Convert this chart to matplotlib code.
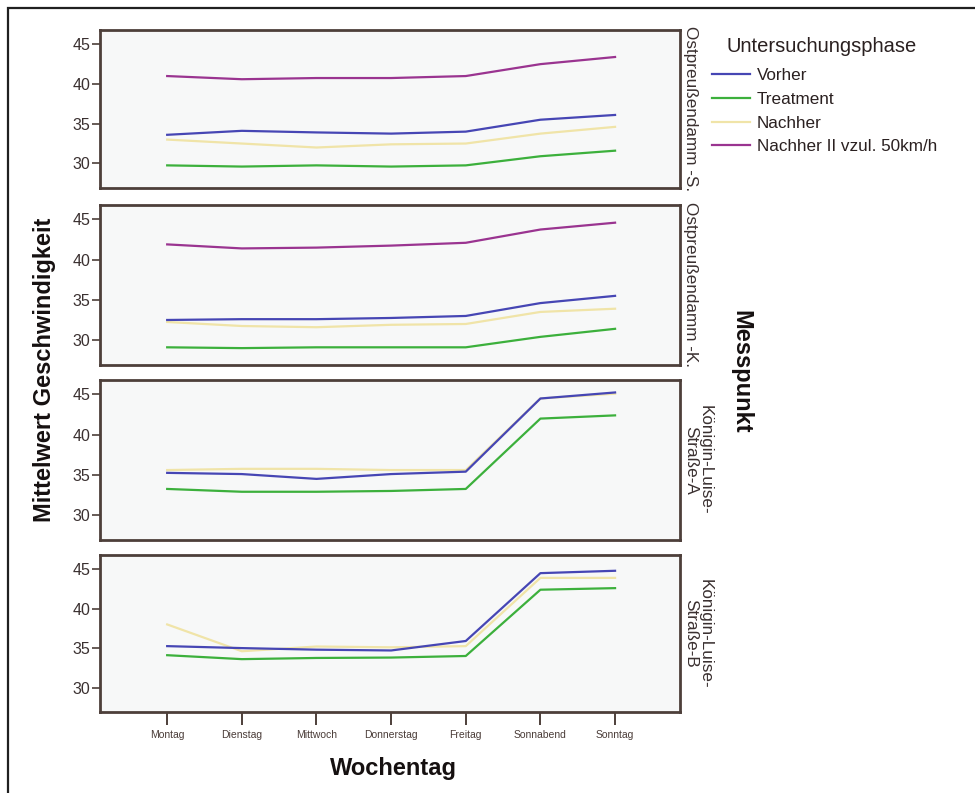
import matplotlib
matplotlib.use("Agg")
import matplotlib.pyplot as plt
from matplotlib.lines import Line2D
from matplotlib.patches import Rectangle

plt.rcParams['font.family'] = ['Liberation Sans', 'DejaVu Sans']

days = ["Montag", "Dienstag", "Mittwoch", "Donnerstag", "Freitag", "Sonnabend", "Sonntag"]
phases = ["Vorher", "Treatment", "Nachher", "Nachher II vzul. 50km/h"]
panel_labels = ["Ostpreußendamm -S.", "Ostpreußendamm -K.",
                "Königin-Luise-\nStraße-A", "Königin-Luise-\nStraße-B"]

# Ostpreußendamm -S.
s_vorher    = [33.6, 34.1, 33.9, 33.75, 34.0, 35.5, 36.1]
s_treatment = [29.75, 29.6, 29.75, 29.6, 29.75, 30.9, 31.6]
s_nachher   = [33.0, 32.5, 32.0, 32.4, 32.5, 33.75, 34.6]
s_nachher2  = [41.0, 40.6, 40.75, 40.75, 41.0, 42.5, 43.4]
# Ostpreußendamm -K.
k_vorher    = [32.5, 32.6, 32.6, 32.75, 33.0, 34.6, 35.5]
k_treatment = [29.1, 29.0, 29.1, 29.1, 29.1, 30.4, 31.4]
k_nachher   = [32.25, 31.75, 31.6, 31.9, 32.0, 33.5, 33.9]
k_nachher2  = [41.9, 41.4, 41.5, 41.75, 42.1, 43.75, 44.6]
# Königin-Luise-Straße-A
a_vorher    = [35.25, 35.1, 34.5, 35.1, 35.4, 44.5, 45.25]
a_treatment = [33.25, 32.9, 32.9, 33.0, 33.25, 42.0, 42.4]
a_nachher   = [35.6, 35.75, 35.75, 35.6, 35.6, 44.5, 45.1]
# Königin-Luise-Straße-B
b_vorher    = [35.25, 35.0, 34.8, 34.7, 35.9, 44.5, 44.8]
b_treatment = [34.1, 33.6, 33.75, 33.8, 34.0, 42.4, 42.6]
b_nachher   = [38.0, 34.6, 35.2, 35.1, 35.25, 43.9, 43.9]

panels = [
    {"Vorher": s_vorher, "Treatment": s_treatment, "Nachher": s_nachher, "Nachher II vzul. 50km/h": s_nachher2},
    {"Vorher": k_vorher, "Treatment": k_treatment, "Nachher": k_nachher, "Nachher II vzul. 50km/h": k_nachher2},
    {"Vorher": a_vorher, "Treatment": a_treatment, "Nachher": a_nachher},
    {"Vorher": b_vorher, "Treatment": b_treatment, "Nachher": b_nachher},
]

colors = {"Vorher": "#4646b4", "Treatment": "#3cb03c", "Nachher": "#f0e4a8",
          "Nachher II vzul. 50km/h": "#9a3490"}
draw_order = ["Nachher", "Treatment", "Vorher", "Nachher II vzul. 50km/h"]

W, H = 975, 793
fig = plt.figure(figsize=(W / 100, H / 100), dpi=100)
fig.patch.set_facecolor("white")

# outer frame
fig.add_artist(Rectangle((8 / W, -0.01), 1.02, 1 - 8 / H + 0.01, transform=fig.transFigure,
                         fill=False, edgecolor="#202020", linewidth=1.6))

frame_col = "#4d3f3a"
left, right = 100 / W, 680 / W
tops = [30, 205, 380, 555]
bots = [188, 365, 540, 712]
x = list(range(len(days)))

axes = []
for i, (t, b) in enumerate(zip(tops, bots)):
    ax = fig.add_axes([left, 1 - b / H, right - left, (b - t) / H])
    ax.set_facecolor("#f7f8f8")
    data = panels[i]
    for ph in draw_order:
        if ph in data:
            ax.plot(x, data[ph], color=colors[ph], linewidth=1.6, solid_joinstyle="round")
    ax.set_xlim(-0.9, 6.87)
    ax.set_ylim(26.9, 46.8)
    ax.set_yticks([30, 35, 40, 45])
    ax.tick_params(axis="y", direction="out", length=6, width=1.2, color=frame_col,
                   labelsize=11.5, labelcolor="#3a3030", pad=1)
    for sp in ax.spines.values():
        sp.set_color(frame_col)
        sp.set_linewidth(2.0)
    if i < 3:
        ax.set_xticks([])
    else:
        ax.set_xticks(x)
        ax.set_xticklabels(days, fontsize=7.5, color="#4a3c38")
        ax.tick_params(axis="x", direction="out", length=9, width=1.4, color=frame_col, pad=4)
    ax.text(1.006, 0.5, panel_labels[i], transform=ax.transAxes, rotation=-90,
            ha="left", va="center", fontsize=12.3, color="#3a3030",
            linespacing=0.95, multialignment="center")
    axes.append(ax)

# axis titles
fig.text(45 / W, 1 - 370 / H, "Mittelwert Geschwindigkeit", rotation=90, ha="center", va="center",
         fontsize=17, fontweight="bold", color="#151010")
fig.text(393 / W, 1 - 768 / H, "Wochentag", ha="center", va="center",
         fontsize=17, fontweight="bold", color="#151010")
fig.text(741 / W, 1 - 372 / H, "Messpunkt", rotation=-90, ha="center", va="center",
         fontsize=17, fontweight="bold", color="#151010")

# legend
fig.text(727 / W, 1 - 46 / H, "Untersuchungsphase", ha="left", va="center",
         fontsize=14.5, color="#2a2020")
handles = [Line2D([0], [0], color=colors[p], linewidth=1.6) for p in phases]
leg = fig.legend(handles, phases, loc="upper left",
                 bbox_to_anchor=(709 / W, 1 - 65 / H), frameon=False, fontsize=12.3,
                 handlelength=2.2, handletextpad=0.4, labelspacing=0.5,
                 borderaxespad=0, borderpad=0.2)
for txt in leg.get_texts():
    txt.set_color("#2a2020")

fig.savefig("out.png", dpi=100, facecolor="white")
